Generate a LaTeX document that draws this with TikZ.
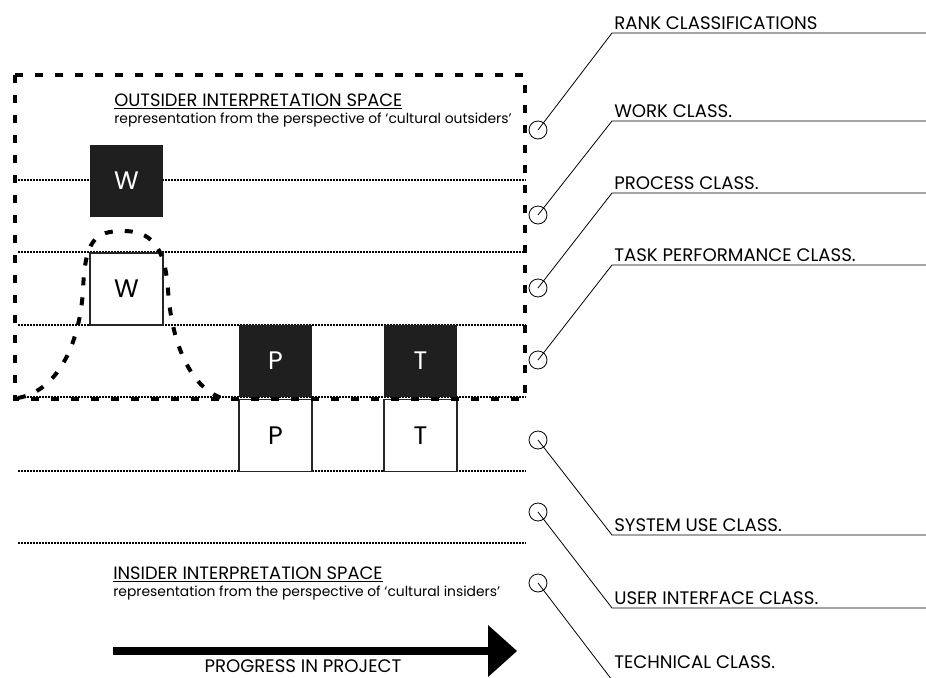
\documentclass[tikz,border=0pt]{standalone}
\usepackage{fontspec}
\setmainfont{Poppins}
\begin{document}
\begin{tikzpicture}[x=0.75pt,y=-0.75pt,
  dotline/.style={line width=1pt,dash pattern=on 1.5pt off 0.75pt},
  thickdash/.style={line width=3pt,dash pattern=on 6pt off 9pt},
  blackbox/.style={fill=black!88,draw=none,minimum width=54.5pt,minimum height=54pt,inner sep=0pt,text=white,font=\fontsize{19}{19}\selectfont},
  whitebox/.style={fill=white,draw=black!85,line width=1.1pt,minimum width=54.5pt,minimum height=54pt,inner sep=0pt,font=\fontsize{19}{19}\selectfont},
  ring/.style={circle,draw,line width=0.6pt,minimum size=13.5pt,inner sep=0pt},
  leader/.style={line width=0.6pt},
  classlabel/.style={anchor=base west,inner sep=0pt,font=\fontsize{13.6}{13.6}\selectfont},
  heading/.style={anchor=base west,inner sep=0pt,font=\fontsize{13.4}{13.4}\selectfont},
  subtitle/.style={anchor=base west,inner sep=0pt,font=\fontsize{10.4}{10.4}\selectfont}
]
\useasboundingbox (0,0) rectangle (926,678);
% dotted class lines
\foreach \yy in {180,252,325,397,471,543}
  \draw[dotline] (18,\yy) -- (526,\yy);
% boxes
\node[whitebox] (ww) at (126.5,289) {W};
\node[blackbox] (wb) at (126.5,181) {W};
\node[whitebox] (pw) at (275.5,435.5) {P};
\node[whitebox] (tw) at (420.5,435.5) {T};
\node[blackbox] (pb) at (275.5,360.5) {P};
\node[blackbox] (tb) at (420.5,360.5) {T};
% outsider space dashed frame
\draw[thickdash] (15,75) rectangle (525,399);
% bell curve
\draw[thickdash] (18,398) .. controls (60,390) and (80,340) .. (83,290)
  .. controls (85,240) and (95,231) .. (123,231)
  .. controls (150,231) and (165,245) .. (168,290)
  .. controls (172,350) and (195,395) .. (230,400);
% texts
\node[heading] (oh) at (114,106) {\underline{OUTSIDER INTERPRETATION SPACE}};
\node[subtitle] (os) at (114,123) {representation from the perspective of ‘cultural outsiders’};
\node[heading] (ih) at (113,579) {\underline{INSIDER INTERPRETATION SPACE}};
\node[subtitle] (is) at (113,596) {representation from the perspective of ‘cultural insiders’};
% progress arrow
\coordinate (as) at (113,651);
\coordinate (ae) at (490,651);
\draw[line width=6pt] (as) -- (ae);
\fill (488,625) -- (517,651) -- (488,677) -- cycle;
\node[anchor=base,inner sep=0pt,font=\fontsize{13.6}{13.6}\selectfont] (pp) at (303,672) {PROGRESS IN PROJECT};
% rings and leaders
\node[ring] (c1) at (538,130) {};
\node[ring] (c2) at (538,215) {};
\node[ring] (c3) at (538,288) {};
\node[ring] (c4) at (538,360) {};
\node[ring] (c5) at (538,440) {};
\node[ring] (c6) at (538,512) {};
\node[ring] (c7) at (538,583) {};
\foreach \i/\yy in {1/33,2/121,3/193,4/265,5/535,6/608}{
  \coordinate (k\i) at (612,\yy);
  \coordinate (e\i) at (926,\yy);
}
\coordinate (k7) at (612,680);
\foreach \i in {1,...,6}
  \draw[leader] (c\i.center) -- (k\i) -- (e\i);
\draw[leader] (c7.center) -- (k7);
\node[classlabel] (l1) at (614,29) {RANK CLASSIFICATIONS};
\node[classlabel] (l2) at (614,117) {WORK CLASS.};
\node[classlabel] (l3) at (614,189) {PROCESS CLASS.};
\node[classlabel] (l4) at (614,261) {TASK PERFORMANCE CLASS.};
\node[classlabel] (l5) at (614,531) {SYSTEM USE CLASS.};
\node[classlabel] (l6) at (614,604) {USER INTERFACE CLASS.};
\node[classlabel] (l7) at (614,668) {TECHNICAL CLASS.};
\end{tikzpicture}
\end{document}
